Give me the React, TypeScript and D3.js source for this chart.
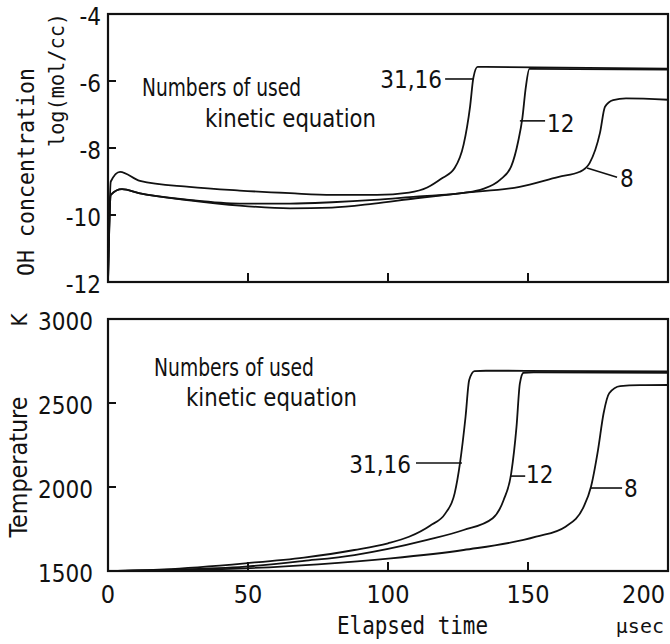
import React, { useEffect, useRef } from "react";
import * as d3 from "d3";

const WIDTH = 670;
const HEIGHT = 644;
const NARROW = "'Liberation Sans Narrow', 'DejaVu Sans Condensed', 'Arial Narrow', sans-serif";
const MONO = "'DejaVu Sans Mono', 'Liberation Mono', monospace";

// elapsed time axis (µsec)
const timeTicks = [0, 50, 100, 150, 200];

// OH concentration, log(mol/cc)
const ohTicks = [-12, -10, -8, -6, -4];
const ohTime31 = [0, 1, 4.3, 11.4, 29, 47, 65, 80, 96, 107.5, 114, 119, 123.8, 127, 129.3, 130.5, 132, 200];
const ohValue31 = [-12, -9.0, -8.71, -8.98, -9.16, -9.27, -9.35, -9.4, -9.4, -9.33, -9.18, -8.92, -8.6, -7.9, -6.77, -5.9, -5.58, -5.63];
const ohTime12 = [0, 1, 5, 11, 29, 47, 65, 80, 95, 110, 127, 134, 140, 144, 146.5, 148, 149.2, 150.5, 200];
const ohValue12 = [-12, -9.4, -9.23, -9.35, -9.55, -9.66, -9.66, -9.62, -9.55, -9.45, -9.34, -9.22, -8.95, -8.55, -7.8, -7.1, -6.2, -5.64, -5.66];
const ohTime8 = [0, 1, 5, 11, 29, 47, 65, 80, 95, 110, 127, 147, 161, 168.5, 172, 175.7, 177.5, 180.4, 185, 200];
const ohValue8 = [-12, -9.4, -9.23, -9.35, -9.56, -9.72, -9.8, -9.78, -9.66, -9.5, -9.34, -9.16, -8.86, -8.71, -8.45, -7.55, -6.77, -6.57, -6.52, -6.56];

// Temperature, K
const tempTicks = [1500, 2000, 2500, 3000];
const tTime31 = [0, 20, 49, 70, 88, 100, 107.5, 115, 120.5, 123.8, 125.7, 127.7, 129, 130.9, 135, 200];
const tValue31 = [1500, 1510, 1546, 1580, 1625, 1665, 1704, 1770, 1843, 1962, 2141, 2418, 2637, 2690, 2692, 2688];
const tTime12 = [0, 20, 49, 70, 88, 114, 127, 137.4, 141.3, 144, 145.9, 147.1, 148.4, 152, 200];
const tValue12 = [1500, 1507, 1526, 1560, 1595, 1685, 1744, 1814, 1923, 2081, 2359, 2617, 2680, 2683, 2680];
const tTime8 = [0, 20, 49, 75, 101, 127, 152.9, 163.4, 169.9, 172.5, 175, 177, 179, 182.9, 190, 200];
const tValue8 = [1500, 1504, 1516, 1540, 1575, 1625, 1704, 1764, 1883, 2002, 2220, 2439, 2558, 2601, 2606, 2607];

// curve labels: leader from (t1,v1) to (t2,v2), text at (tt,vt)
const ohLabels = [
  { name: "31,16", t1: 120.4, v1: -5.94, t2: 130.4, v2: -5.94, tt: 119.3, vt: -6.21, anchor: "end" },
  { name: "12", t1: 147.1, v1: -7.19, t2: 156.1, v2: -7.19, tt: 156.8, vt: -7.52, anchor: "start" },
  { name: "8", t1: 171.1, v1: -8.6, t2: 181.8, v2: -8.87, tt: 182.9, vt: -9.16, anchor: "start" },
];
const tempLabels = [
  { name: "31,16", t1: 110, v1: 2143, t2: 126.4, v2: 2143, tt: 108.2, vt: 2083, anchor: "end" },
  { name: "12", t1: 143.9, v1: 2065, t2: 149, v2: 2065, tt: 149.3, vt: 2024, anchor: "start" },
  { name: "8", t1: 172.5, v1: 1994, t2: 183.6, v2: 1994, tt: 184.3, vt: 1940, anchor: "start" },
];

const App = () => {
  const ref = useRef(null);

  useEffect(() => {
    const svg = d3.select(ref.current);
    svg.selectAll("*").remove();

    const x = d3.scaleLinear().domain([0, 200]).range([108, 668]);
    const yOh = d3.scaleLinear().domain([-12, -4]).range([282, 14]);
    const yT = d3.scaleLinear().domain([1500, 3000]).range([571, 319]);

    const drawPanel = (y, series, labels, yTicks, labelRight) => {
      const [y0, y1] = y.range();
      const g = svg.append("g");

      // frame
      g.append("rect")
        .attr("x", x(0)).attr("y", y1)
        .attr("width", x(200) - x(0)).attr("height", y0 - y1)
        .attr("fill", "none").attr("stroke", "#111").attr("stroke-width", 2.2);

      // inward ticks
      g.selectAll("line.xt")
        .data(timeTicks.slice(1, -1))
        .join("line")
        .attr("x1", d => x(d)).attr("x2", d => x(d))
        .attr("y1", y0).attr("y2", y0 - 9)
        .attr("stroke", "#111").attr("stroke-width", 2);
      g.selectAll("line.yt")
        .data(yTicks.slice(1, -1))
        .join("line")
        .attr("x1", x(0)).attr("x2", x(0) + 8)
        .attr("y1", d => y(d)).attr("y2", d => y(d))
        .attr("stroke", "#111").attr("stroke-width", 2);

      // y tick labels
      g.selectAll("text.yl")
        .data(yTicks)
        .join("text")
        .attr("x", labelRight)
        .attr("y", d => y(d) + 2)
        .attr("dy", "0.36em")
        .attr("text-anchor", "end")
        .style("font-family", NARROW).style("font-stretch", "condensed")
        .style("font-size", "24px").attr("fill", "#111")
        .text(d => (d < 0 ? "-" + Math.abs(d) : d));

      // curves
      const line = d3.line().x(d => x(d[0])).y(d => y(d[1])).curve(d3.curveMonotoneX);
      series.forEach(([ts, vs]) => {
        g.append("path")
          .attr("d", line(ts.map((t, i) => [t, vs[i]])))
          .attr("fill", "none").attr("stroke", "#111").attr("stroke-width", 1.8);
      });

      // curve labels
      labels.forEach(l => {
        g.append("line")
          .attr("x1", x(l.t1)).attr("y1", y(l.v1))
          .attr("x2", x(l.t2)).attr("y2", y(l.v2))
          .attr("stroke", "#111").attr("stroke-width", 1.6);
        g.append("text")
          .attr("x", x(l.tt)).attr("y", y(l.vt))
          .attr("text-anchor", l.anchor)
          .style("font-family", NARROW).style("font-stretch", "condensed")
          .style("font-size", "24px").attr("fill", "#111")
          .text(l.name);
      });
      return g;
    };

    drawPanel(yOh, [[ohTime31, ohValue31], [ohTime12, ohValue12], [ohTime8, ohValue8]], ohLabels, ohTicks, 101);
    drawPanel(yT, [[tTime31, tValue31], [tTime12, tValue12], [tTime8, tValue8]], tempLabels, tempTicks, 93);

    // x tick labels
    svg.selectAll("text.xl")
      .data(timeTicks)
      .join("text")
      .attr("x", d => (d === 200 ? x(d) - 3 : x(d)))
      .attr("y", 603)
      .attr("text-anchor", d => (d === 200 ? "end" : "middle"))
      .style("font-family", NARROW).style("font-stretch", "condensed")
      .style("font-size", "25px").attr("fill", "#111")
      .text(d => d);

    const txt = (s, tx, ty, opts = {}) => {
      const t = svg.append("text")
        .attr("x", tx).attr("y", ty)
        .attr("text-anchor", opts.anchor || "start")
        .style("font-family", opts.font || NARROW)
        .style("font-size", (opts.size || 24) + "px")
        .attr("fill", "#111")
        .text(s);
      if (opts.font !== MONO) t.style("font-stretch", "condensed");
      if (opts.rotate) t.attr("transform", `rotate(-90 ${tx} ${ty})`);
      if (opts.len) t.attr("textLength", opts.len).attr("lengthAdjust", "spacingAndGlyphs");
      return t;
    };

    // in-plot notes
    txt("Numbers of used", 142, 96, { len: 159 });
    txt("kinetic equation", 205, 127, { len: 171 });
    txt("Numbers of used", 154, 376, { len: 160 });
    txt("kinetic equation", 186, 406, { len: 171 });

    // axis titles
    txt("OH concentration", 34, 172, { font: MONO, size: 23, rotate: true, anchor: "middle", len: 208 });
    txt("log(mol/cc)", 64, 80, { font: MONO, size: 22, rotate: true, anchor: "middle", len: 134 });
    txt("K", 27, 320, { size: 22, rotate: true, anchor: "middle" });
    txt("Temperature", 27, 467, { size: 24, rotate: true, anchor: "middle", len: 141 });
    txt("Elapsed time", 337, 634, { font: MONO, size: 24, len: 151 });
    txt("µsec", 664, 633, { font: MONO, size: 20, anchor: "end" });
  }, []);

  return (
    <div style={{ position: "absolute", left: 0, top: 0 }}>
      <svg ref={ref} width={WIDTH} height={HEIGHT} style={{ display: "block", background: "#fff" }} />
    </div>
  );
};

export default App;
